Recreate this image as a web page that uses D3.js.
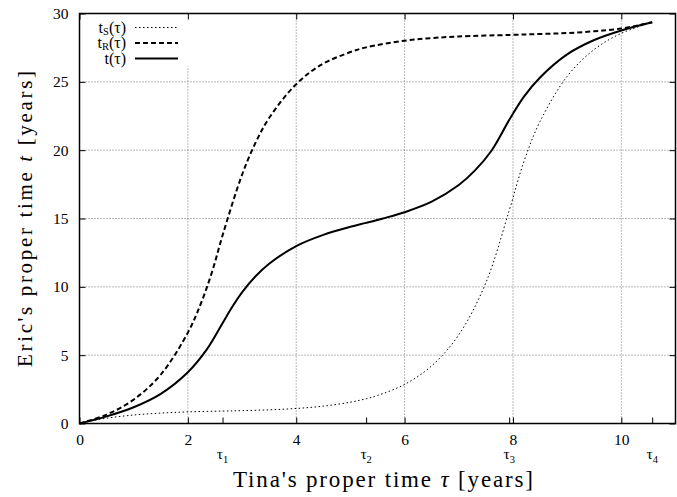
<!DOCTYPE html>
<html><head><meta charset="utf-8">
<script src="https://cdn.jsdelivr.net/npm/d3@7"></script>
<style>
html,body{margin:0;padding:0;background:#fff;}
svg{display:block;font-family:"Liberation Serif","DejaVu Serif",serif;}
</style></head>
<body>
<svg id="chart" width="677" height="497"></svg>
<script>
// ---- data ----
const xTicks = [0, 2, 4, 6, 8, 10];
const yTicks = [0, 5, 10, 15, 20, 25, 30];
const tauTicks = [2.64, 5.29, 7.93, 10.57];
const tauLabels = ["1", "2", "3", "4"];

const tauS = [0, 0.25, 0.5, 1.0, 1.5, 2.0, 2.64, 3.0, 3.5, 4.0, 4.5, 5.0, 5.29, 5.5, 6.0, 6.5, 7.0, 7.5, 7.93, 8.2, 8.5, 9.0, 9.5, 10.0, 10.57];
const tS   = [0, 0.22, 0.39, 0.62, 0.76, 0.85, 0.91, 0.94, 1.0, 1.1, 1.27, 1.56, 1.81, 2.05, 2.86, 4.22, 6.49, 10.3, 15.57, 19.14, 22.1, 25.4, 27.37, 28.55, 29.36];

const tauR = [0, 0.5, 1.0, 1.5, 2.0, 2.25, 2.45, 2.64, 3.0, 3.25, 3.5, 3.98, 4.44, 5.0, 5.29, 6.0, 6.5, 7.0, 7.93, 8.5, 9.0, 9.5, 10.0, 10.57];
const tR   = [0, 0.65, 1.75, 3.58, 6.65, 8.88, 11.14, 13.76, 18.2, 20.55, 22.35, 24.75, 26.2, 27.18, 27.52, 28.01, 28.2, 28.32, 28.43, 28.5, 28.57, 28.7, 28.9, 29.36];

const tauT = [0, 0.5, 1.0, 1.5, 2.0, 2.35, 2.64, 2.8, 3.0, 3.25, 3.5, 4.0, 4.5, 5.0, 5.29, 5.6, 6.0, 6.5, 7.0, 7.3, 7.6, 7.93, 8.2, 8.5, 9.0, 9.5, 10.0, 10.57];
const tT   = [0, 0.52, 1.19, 2.17, 3.75, 5.42, 7.34, 8.41, 9.59, 10.77, 11.69, 12.98, 13.8, 14.39, 14.68, 15.0, 15.46, 16.23, 17.45, 18.52, 19.94, 22.2, 23.9, 25.32, 27.01, 28.06, 28.76, 29.36];

// ---- chart ----
const svg = d3.select("#chart");
const x = d3.scaleLinear().domain([0, 11]).range([79.5, 675.5]);
const y = d3.scaleLinear().domain([0, 30]).range([423.5, 13.5]);
const X0 = x.range()[0], X1 = x.range()[1], Y0 = y.range()[0], Y1 = y.range()[1];

// grid
const grid = svg.append("g").attr("stroke", "#777").attr("stroke-width", 1).attr("stroke-dasharray", "1,2");
xTicks.filter(d => d > 0).forEach(d => {
  grid.append("line").attr("x1", x(d)).attr("x2", x(d)).attr("y1", Y0).attr("y2", Y1);
});
yTicks.filter(d => d > 0 && d < 30).forEach(d => {
  grid.append("line").attr("x1", X0).attr("x2", X1).attr("y1", y(d)).attr("y2", y(d));
});

// legend background
svg.append("rect").attr("x", X0 + 1).attr("y", Y1 + 1).attr("width", 113).attr("height", 52).attr("fill", "#fff");

const mk = (xs, ys) => xs.map((d, i) => [d, ys[i]]);
const line = d3.line().x(d => x(d[0])).y(d => y(d[1])).curve(d3.curveCatmullRom.alpha(0.5));

const series = [
  {name: "S", data: mk(tauS, tS), width: 1, dash: "1.5,2.5"},
  {name: "R", data: mk(tauR, tR), width: 2, dash: "5,3"},
  {name: "",  data: mk(tauT, tT), width: 2, dash: null}
];
series.forEach(s => {
  svg.append("path").attr("d", line(s.data)).attr("fill", "none").attr("stroke", "#000")
    .attr("stroke-width", s.width).attr("stroke-dasharray", s.dash);
});

// legend
series.forEach((s, i) => {
  const ly = 27.5 + i * 15.5;
  const t = svg.append("text").attr("x", 126).attr("y", ly + 5).attr("text-anchor", "end").attr("font-size", 16);
  t.append("tspan").text("t");
  if (s.name) t.append("tspan").attr("font-size", 10.5).attr("dy", 2).text(s.name);
  t.append("tspan").attr("dy", s.name ? -2 : 0).text("(τ)");
  svg.append("line").attr("x1", 135).attr("x2", 178).attr("y1", ly).attr("y2", ly)
    .attr("stroke", "#000").attr("stroke-width", s.width).attr("stroke-dasharray", s.dash);
});

// axes (ticks inward)
const tickLen = 6;
const axB = svg.append("g").attr("transform", `translate(0,${Y0})`)
  .call(d3.axisBottom(x).tickValues(xTicks).tickSize(-tickLen).tickPadding(10).tickFormat(d3.format("d")));
const axT = svg.append("g").attr("transform", `translate(0,${Y1})`)
  .call(d3.axisTop(x).tickValues(xTicks).tickSize(-tickLen).tickFormat(""));
const axL = svg.append("g").attr("transform", `translate(${X0},0)`)
  .call(d3.axisLeft(y).tickValues(yTicks).tickSize(-tickLen).tickPadding(11).tickFormat(d3.format("d")));
const axR = svg.append("g").attr("transform", `translate(${X1},0)`)
  .call(d3.axisRight(y).tickValues(yTicks).tickSize(-tickLen).tickFormat(""));
const axTau = svg.append("g").attr("transform", `translate(0,${Y0})`)
  .call(d3.axisBottom(x).tickValues(tauTicks).tickSize(-tickLen).tickFormat(""));
[axB, axT, axL, axR, axTau].forEach(g => {
  g.select(".domain").remove();
  g.selectAll(".tick line").attr("stroke", "#000").attr("stroke-width", 1);
  g.selectAll("text").attr("font-family", "Liberation Serif, serif").attr("font-size", 15.5).attr("fill", "#000");
});

// tau labels
tauTicks.forEach((d, i) => {
  const t = svg.append("text").attr("x", x(d)).attr("y", 459).attr("text-anchor", "middle").attr("font-size", 15.5);
  t.append("tspan").text("τ");
  t.append("tspan").attr("font-size", 10.5).attr("dy", 4).text(tauLabels[i]);
});

// border
svg.append("rect").attr("x", X0).attr("y", Y1).attr("width", X1 - X0).attr("height", Y0 - Y1)
  .attr("fill", "none").attr("stroke", "#000").attr("stroke-width", 1.5);

// axis titles
const xt = svg.append("text").attr("x", 383).attr("y", 487).attr("text-anchor", "middle").attr("font-size", 23)
  .attr("textLength", 300).attr("lengthAdjust", "spacing");
xt.append("tspan").text("Tina's proper time ");
xt.append("tspan").attr("font-style", "italic").text("τ");
xt.append("tspan").text(" [years]");

const yt = svg.append("text").attr("transform", "translate(32,219) rotate(-90)").attr("text-anchor", "middle").attr("font-size", 21)
  .attr("textLength", 296).attr("lengthAdjust", "spacing");
yt.append("tspan").text("Eric's proper time ");
yt.append("tspan").attr("font-style", "italic").text("t");
yt.append("tspan").text(" [years]");
</script>
</body></html>
